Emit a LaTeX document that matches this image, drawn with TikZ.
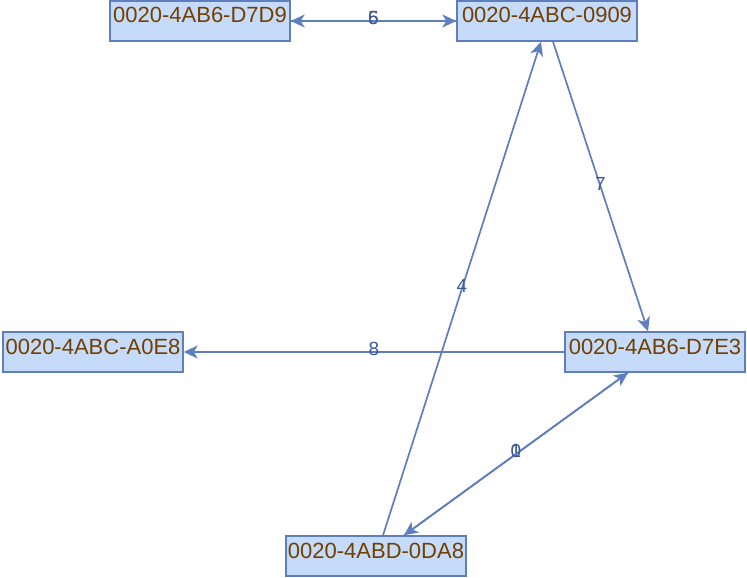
\documentclass[tikz,border=0pt]{standalone}
\usepackage{fontspec}
\setmainfont{Liberation Sans}
\usetikzlibrary{arrows.meta}
\definecolor{boxfill}{RGB}{198,218,250}
\definecolor{boxline}{RGB}{94,126,190}
\definecolor{idtext}{RGB}{112,64,0}
\definecolor{edgeline}{RGB}{94,126,190}
\definecolor{edgetext}{RGB}{60,90,150}
\begin{document}
\begin{tikzpicture}[x=1pt, y=-1pt,
    idbox/.style={draw=boxline, fill=boxfill, line width=1.4pt, text=idtext,
      font=\fontsize{22}{24}\selectfont, minimum width=180pt,
      inner xsep=2pt, inner ysep=3pt, text height=19pt, text depth=15pt},
    link/.style={draw=edgeline, line width=1.7pt,
      -{Stealth[length=14pt, width=13pt, inset=4pt]}},
    num/.style={midway, yshift=3pt, text=edgetext, inner sep=1pt,
      font=\fontsize{19}{21}\selectfont}]
    \useasboundingbox (0,0) rectangle (747,578);
    % Boxes
    \node[idbox] (d7d9) at (200,21) {0020-4AB6-D7D9};
    \node[idbox] (n0909) at (547,21) {0020-4ABC-0909};
    \node[idbox] (a0e8) at (93,352) {0020-4ABC-A0E8};
    \node[idbox] (d7e3) at (655,352) {0020-4AB6-D7E3};
    \node[idbox] (n0da8) at (376,556) {0020-4ABD-0DA8};
    % Links
    \draw[link] (d7d9.east) -- (n0909.west) node[num] {5};
    \draw[link] (n0909.west) -- (d7d9.east) node[num] {6};
    \draw[link] ([xshift=6pt]n0909.south) -- ([xshift=-7pt]d7e3.north) node[num] {7};
    \draw[link] ([xshift=7pt]n0da8.north) -- ([xshift=-6pt]n0909.south) node[num] {4};
    \draw[link] (d7e3.west) -- (a0e8.east) node[num] {8};
    \draw[link] ([xshift=28pt]n0da8.north) -- ([xshift=-27pt]d7e3.south) node[num] {1};
    \draw[link] ([xshift=-27pt]d7e3.south) -- ([xshift=28pt]n0da8.north) node[num] {0};
\end{tikzpicture}
\end{document}
